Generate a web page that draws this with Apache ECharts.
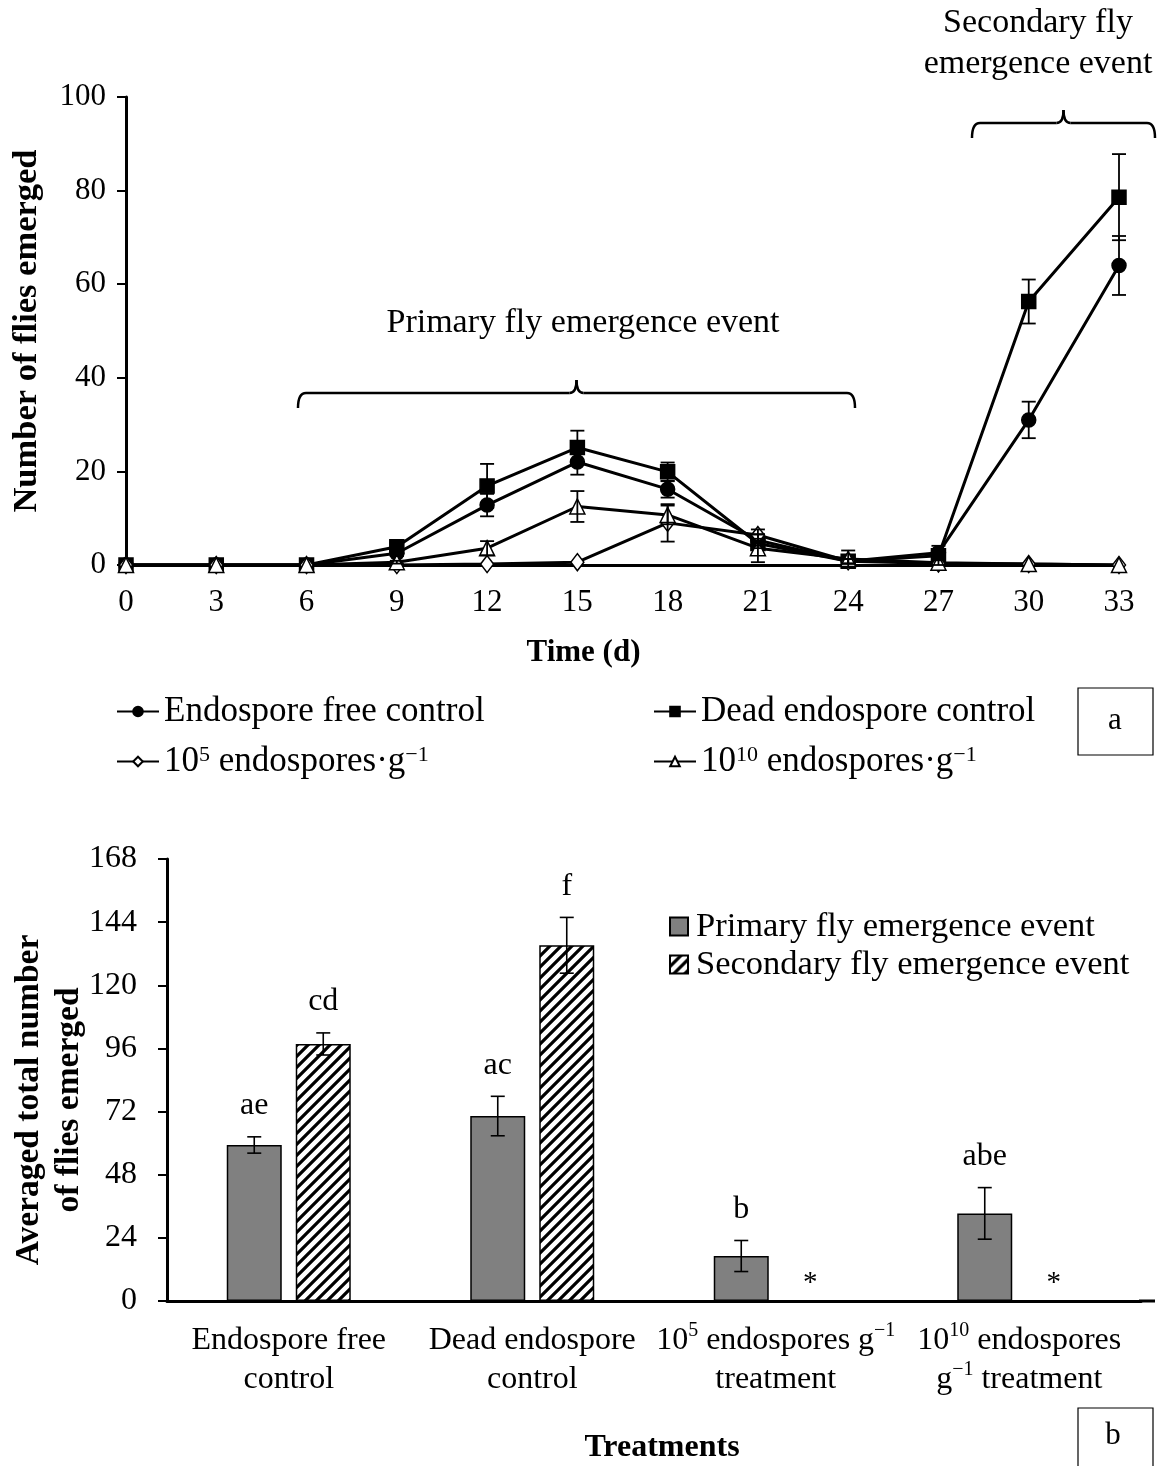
<!DOCTYPE html>
<html>
<head>
<meta charset="utf-8">
<title>Fly emergence</title>
<script src="https://cdn.jsdelivr.net/npm/echarts@6/dist/echarts.min.js"></script>
<style>
  html, body { margin: 0; padding: 0; background: #fff; }
  #chart { width: 1162px; height: 1466px; }
</style>
</head>
<body>
<div id="chart"></div>
<script>
// ---- (a) daily emergence ----
const days = [0, 3, 6, 9, 12, 15, 18, 21, 24, 27, 30, 33];
const freeControl    = [0, 0, 0, 2.5, 12.8, 22.0, 16.2, 5.3, 0.8, 2.6, 31.0, 64.0];
const freeControlErr = [0, 0, 0, 0.6, 2.4, 2.7, 1.8, 1.2, 0.5, 1.5, 3.9, 6.3];
const deadControl    = [0, 0, 0, 3.9, 16.9, 25.1, 19.9, 4.6, 0.8, 2.0, 56.3, 78.6];
const deadControlErr = [0, 0, 0, 0.8, 4.7, 3.6, 2.0, 1.0, 0.5, 0.6, 4.7, 9.2];
const lowDose        = [0, 0, 0, 0, 0.2, 0.6, 9.0, 6.4, 0.8, 0.3, 0.2, 0];
const lowDoseErr     = [0, 0, 0, 0, 0, 0, 4.0, 1.2, 0.5, 0, 0, 0];
const highDose       = [0, 0, 0, 0.6, 3.6, 12.5, 10.7, 3.6, 1.3, 0.5, 0.2, 0];
const highDoseErr    = [0, 0, 0, 0.3, 1.5, 3.3, 2.0, 3.0, 1.8, 0.5, 0, 0];
const yTicksA = { min: 0, max: 100, interval: 20 };

// ---- (b) totals per treatment ----
// {sup|..} marks superscript runs
const treatments = [
  'Endospore free\ncontrol',
  'Dead endospore\ncontrol',
  '10{sup|5} endospores g{sup|\u22121}\ntreatment',
  '10{sup|10} endospores\ng{sup|\u22121} treatment'
];
const primaryTotal      = [59.3, 70.3, 17.1, 33.3];
const primaryTotalErr   = [3.1, 7.5, 5.9, 9.8];
const primaryLetters    = ['ae', 'ac', 'b', 'abe'];
const secondaryTotal    = [97.7, 135.2, 0, 0];
const secondaryTotalErr = [4.2, 10.6, 0, 0];
const secondaryLetters  = ['cd', 'f', '*', '*'];
const yTicksB = { min: 0, max: 168, interval: 24 };

const NAMES = {
  free: 'Endospore free control',
  dead: 'Dead endospore control',
  low: '10^5 endospores g^-1',
  high: '10^10 endospores g^-1',
  primary: 'Primary fly emergence event',
  secondary: 'Secondary fly emergence event'
};
const LEGEND_TEXT = {};
LEGEND_TEXT[NAMES.low] = '10{sup|5} endospores\u00B7g{sup|\u22121}';
LEGEND_TEXT[NAMES.high] = '10{sup|10} endospores\u00B7g{sup|\u22121}';

const FONT = "'Liberation Serif', 'Times New Roman', serif";
const INK = '#000';

const chart = echarts.init(document.getElementById('chart'), null, { renderer: 'canvas' });

// diagonal hatch tile for the secondary bars
function hatchPattern() {
  const s = 11;
  const c = document.createElement('canvas');
  c.width = s; c.height = s;
  const g = c.getContext('2d');
  g.fillStyle = '#fff';
  g.fillRect(0, 0, s, s);
  g.strokeStyle = '#000';
  g.lineWidth = 3.2;
  g.beginPath();
  g.moveTo(-2, s + 2); g.lineTo(s + 2, -2);
  g.moveTo(-2, 2); g.lineTo(2, -2);
  g.moveTo(s - 2, s + 2); g.lineTo(s + 2, s - 2);
  g.stroke();
  return { image: c, repeat: 'repeat' };
}

function pairs(xs, ys, es) {
  return xs.map((x, i) => [x, ys[i], es[i]]);
}

// vertical error whiskers for the line panel
function lineErrorSeries(name, xs, ys, es) {
  return {
    type: 'custom',
    name: name + ' err',
    xAxisIndex: 0, yAxisIndex: 0,
    data: pairs(xs, ys, es),
    z: 5,
    silent: true,
    renderItem(params, api) {
      const e = api.value(2);
      if (!e) return { type: 'group', children: [] };
      const x = api.value(0), y = api.value(1);
      const hi = api.coord([x, y + e]);
      const lo = api.coord([x, y - e]);
      const cap = 7;
      const st = { stroke: INK, lineWidth: 1.8 };
      return {
        type: 'group',
        children: [
          { type: 'line', shape: { x1: hi[0], y1: hi[1], x2: lo[0], y2: lo[1] }, style: st },
          { type: 'line', shape: { x1: hi[0] - cap, y1: hi[1], x2: hi[0] + cap, y2: hi[1] }, style: st },
          { type: 'line', shape: { x1: lo[0] - cap, y1: lo[1], x2: lo[0] + cap, y2: lo[1] }, style: st }
        ]
      };
    }
  };
}

function lineSeries(name, ys, symbol, size, fill, z) {
  return {
    type: 'line',
    name: name,
    xAxisIndex: 0, yAxisIndex: 0,
    data: days.map((d, i) => [d, ys[i]]),
    symbol: symbol,
    symbolSize: size,
    showAllSymbol: true,
    z: z,
    lineStyle: { color: INK, width: 3 },
    itemStyle: { color: fill, borderColor: INK, borderWidth: 1.5 },
    emphasis: { disabled: true }
  };
}

const BAR_W = 55;
const BAR_GAP = 14;

// whiskers and letter groupings for the bar panel
function barErrorSeries(name, vals, errs, letters, side) {
  return {
    type: 'custom',
    name: name + ' err',
    xAxisIndex: 1, yAxisIndex: 1,
    data: vals.map((v, i) => [i, v, errs[i]]),
    z: 6,
    silent: true,
    renderItem(params, api) {
      const i = api.value(0), v = api.value(1), e = api.value(2);
      const label = letters[i];
      const c = api.coord([i, v]);
      const x = c[0] + side * (BAR_W + BAR_GAP) / 2;
      const children = [];
      let top = c[1];
      if (e) {
        const hi = api.coord([i, v + e]);
        const lo = api.coord([i, v - e]);
        const st = { stroke: INK, lineWidth: 1.6 };
        const cap = 7;
        children.push(
          { type: 'line', shape: { x1: x, y1: hi[1], x2: x, y2: lo[1] }, style: st },
          { type: 'line', shape: { x1: x - cap, y1: hi[1], x2: x + cap, y2: hi[1] }, style: st },
          { type: 'line', shape: { x1: x - cap, y1: lo[1], x2: x + cap, y2: lo[1] }, style: st }
        );
        top = hi[1];
      }
      const isMark = label === '*';
      children.push({
        type: 'text',
        style: {
          text: label,
          x: x,
          y: isMark ? top - 3 : top - 15,
          align: 'center',
          verticalAlign: 'bottom',
          font: (isMark ? 29 : 32) + 'px ' + FONT,
          fill: INK
        }
      });
      return { type: 'group', children };
    }
  };
}

// horizontal curly brace: hooks at both ends, notch pointing up at the middle
function brace(x1, x2, y, hook, notch) {
  const xm = (x1 + x2) / 2;
  const st = { stroke: INK, lineWidth: 2.5, fill: null };
  const r = 8;
  return [
    { type: 'bezierCurve', z: 10, shape: { x1: x1, y1: y + hook, cpx1: x1, cpy1: y, x2: x1 + r, y2: y }, style: st },
    { type: 'line', z: 10, shape: { x1: x1 + r, y1: y, x2: xm - 7, y2: y }, style: st },
    { type: 'bezierCurve', z: 10, shape: { x1: xm - 7, y1: y, cpx1: xm, cpy1: y, x2: xm, y2: y - notch }, style: st },
    { type: 'bezierCurve', z: 10, shape: { x1: xm, y1: y - notch, cpx1: xm, cpy1: y, x2: xm + 7, y2: y }, style: st },
    { type: 'line', z: 10, shape: { x1: xm + 7, y1: y, x2: x2 - r, y2: y }, style: st },
    { type: 'bezierCurve', z: 10, shape: { x1: x2 - r, y1: y, cpx1: x2, cpy1: y, x2: x2, y2: y + hook }, style: st }
  ];
}

const supStyle = (size) => ({ fontFamily: FONT, fontSize: size, color: INK, verticalAlign: 'top' });
const axisLineStyle = { lineStyle: { color: INK, width: 3 } };
const legendText = (size) => ({
  color: INK, fontFamily: FONT, fontSize: size,
  rich: { sup: supStyle(Math.round(size * 0.62)) }
});

const option = {
  backgroundColor: '#fff',
  animation: false,
  grid: [
    { left: 126, top: 97, width: 993, height: 468, containLabel: false, outerBoundsMode: 'none' },
    { left: 167, top: 859, width: 974, height: 442, containLabel: false, outerBoundsMode: 'none' }
  ],
  xAxis: [
    {
      gridIndex: 0, type: 'value', min: 0, max: 33, interval: 3,
      axisLine: axisLineStyle, axisTick: { show: false }, splitLine: { show: false },
      axisLabel: { color: INK, fontFamily: FONT, fontSize: 31, margin: 22 },
      name: 'Time (d)', nameLocation: 'middle', nameGap: 72, nameMoveOverlap: false,
      nameTextStyle: { color: INK, fontFamily: FONT, fontSize: 31, fontWeight: 'bold', padding: [0, 78, 0, 0] }
    },
    {
      gridIndex: 1, type: 'category', data: treatments,
      axisLine: axisLineStyle, axisTick: { show: false }, splitLine: { show: false },
      axisLabel: {
        color: INK, fontFamily: FONT, fontSize: 32, lineHeight: 39, margin: 20, interval: 0,
        rich: { sup: supStyle(20) }
      },
      name: 'Treatments', nameLocation: 'middle', nameGap: 131, nameMoveOverlap: false,
      nameTextStyle: { color: INK, fontFamily: FONT, fontSize: 32, fontWeight: 'bold', padding: [0, 0, 0, 16] }
    }
  ],
  yAxis: [
    {
      gridIndex: 0, type: 'value', min: yTicksA.min, max: yTicksA.max, interval: yTicksA.interval,
      axisLine: { show: true, lineStyle: { color: INK, width: 3 } },
      axisTick: { show: true, inside: false, length: 9, lineStyle: { color: INK, width: 2 } },
      splitLine: { show: false },
      axisLabel: { color: INK, fontFamily: FONT, fontSize: 31, margin: 20 },
      name: 'Number of flies emerged', nameLocation: 'middle', nameGap: 81, nameMoveOverlap: false,
      nameTextStyle: { color: INK, fontFamily: FONT, fontSize: 34.5, fontWeight: 'bold' }
    },
    {
      gridIndex: 1, type: 'value', min: yTicksB.min, max: yTicksB.max, interval: yTicksB.interval,
      axisLine: { show: true, lineStyle: { color: INK, width: 3 } },
      axisTick: { show: true, inside: false, length: 9, lineStyle: { color: INK, width: 2 } },
      splitLine: { show: false },
      axisLabel: { color: INK, fontFamily: FONT, fontSize: 32, margin: 30 },
      name: 'Averaged total number\nof flies emerged', nameLocation: 'middle', nameGap: 78, nameMoveOverlap: false,
      nameTextStyle: { color: INK, fontFamily: FONT, fontSize: 33.5, fontWeight: 'bold', lineHeight: 40, padding: [0, 40, 0, 0] }
    }
  ],
  legend: [
    {
      data: [NAMES.free, NAMES.low], orient: 'vertical', left: 111, top: 689,
      itemWidth: 42, itemHeight: 12, itemGap: 15,
      formatter: (n) => LEGEND_TEXT[n] || n,
      textStyle: legendText(35), selectedMode: false
    },
    {
      data: [NAMES.dead, NAMES.high], orient: 'vertical', left: 648, top: 689,
      itemWidth: 42, itemHeight: 12, itemGap: 15,
      formatter: (n) => LEGEND_TEXT[n] || n,
      textStyle: legendText(35), selectedMode: false
    },
    {
      data: [NAMES.primary, NAMES.secondary], orient: 'vertical', left: 664, top: 904,
      icon: 'rect', itemWidth: 18, itemHeight: 18, itemGap: 3,
      textStyle: { color: INK, fontFamily: FONT, fontSize: 34.5, padding: [0, 0, 0, 3] }, selectedMode: false
    }
  ],
  series: [
    lineSeries(NAMES.free, freeControl, 'circle', 14, INK, 3),
    lineSeries(NAMES.dead, deadControl, 'rect', 14, INK, 3),
    lineSeries(NAMES.low, lowDose, 'diamond', [13, 17], '#fff', 4),
    lineSeries(NAMES.high, highDose, 'triangle', 15, '#fff', 4),
    lineErrorSeries(NAMES.free, days, freeControl, freeControlErr),
    lineErrorSeries(NAMES.dead, days, deadControl, deadControlErr),
    lineErrorSeries(NAMES.low, days, lowDose, lowDoseErr),
    lineErrorSeries(NAMES.high, days, highDose, highDoseErr),
    {
      type: 'bar', name: NAMES.primary, xAxisIndex: 1, yAxisIndex: 1,
      data: primaryTotal, barWidth: BAR_W, barGap: (BAR_GAP / BAR_W * 100) + '%',
      itemStyle: { color: '#808080', borderColor: INK, borderWidth: 1.5 },
      emphasis: { disabled: true }
    },
    {
      type: 'bar', name: NAMES.secondary, xAxisIndex: 1, yAxisIndex: 1,
      data: secondaryTotal, barWidth: BAR_W,
      itemStyle: { color: hatchPattern(), borderColor: INK, borderWidth: 1.5 },
      emphasis: { disabled: true }
    },
    barErrorSeries(NAMES.primary, primaryTotal, primaryTotalErr, primaryLetters, -1),
    barErrorSeries(NAMES.secondary, secondaryTotal, secondaryTotalErr, secondaryLetters, 1)
  ],
  graphic: [].concat(
    // emergence-period braces and their captions
    brace(298, 855, 393, 15, 13),
    brace(972, 1155, 123, 15, 13),
    [
      {
        type: 'text', z: 10,
        style: { text: 'Primary fly emergence event', x: 583, y: 323, align: 'center', verticalAlign: 'middle', font: '34px ' + FONT, fill: INK }
      },
      {
        type: 'text', z: 10,
        style: { text: 'Secondary fly\nemergence event', x: 1038, y: 44, align: 'center', verticalAlign: 'middle', font: '34px ' + FONT, lineHeight: 41, fill: INK }
      },
      // the bottom baseline runs on a little past the last group
      { type: 'line', z: 10, shape: { x1: 1139, y1: 1301, x2: 1155, y2: 1301 }, style: { stroke: INK, lineWidth: 3 } },
      // panel tags
      { type: 'rect', z: 10, shape: { x: 1078, y: 688, width: 75, height: 67 }, style: { fill: '#fff', stroke: INK, lineWidth: 1.2 } },
      { type: 'text', z: 11, style: { text: 'a', x: 1115, y: 721, align: 'center', verticalAlign: 'middle', font: '31px ' + FONT, fill: INK } },
      { type: 'rect', z: 10, shape: { x: 1078, y: 1408, width: 75, height: 72 }, style: { fill: '#fff', stroke: INK, lineWidth: 1.2 } },
      { type: 'text', z: 11, style: { text: 'b', x: 1113, y: 1436, align: 'center', verticalAlign: 'middle', font: '31px ' + FONT, fill: INK } }
    ]
  )
};

chart.setOption(option);
</script>
</body>
</html>
